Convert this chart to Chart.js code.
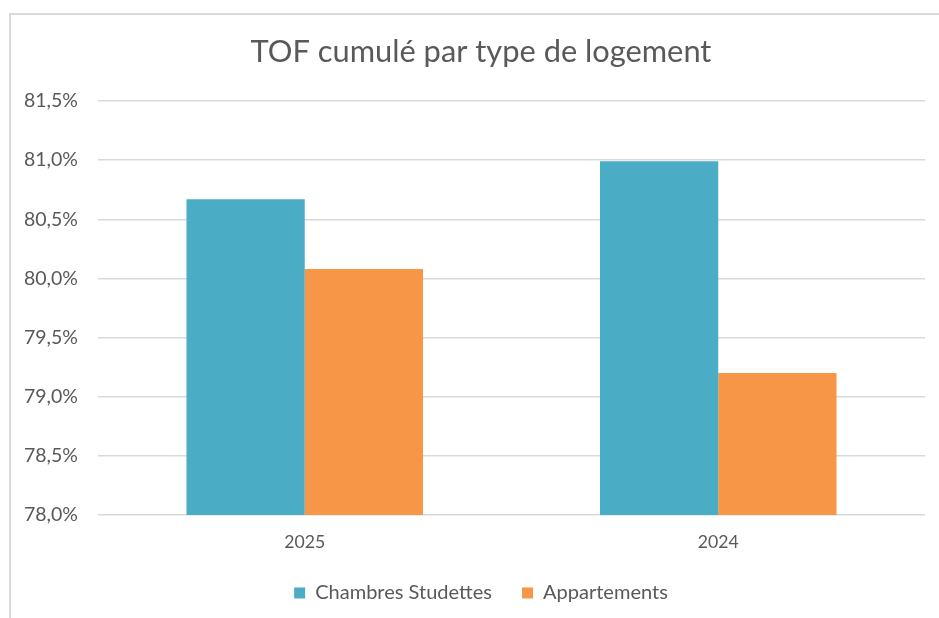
<!DOCTYPE html>
<html>
<head>
<meta charset="utf-8">
<script src="https://cdn.jsdelivr.net/npm/chart.js@4/dist/chart.umd.min.js"></script>
<style>
  html, body { margin: 0; padding: 0; background: #ffffff; overflow: hidden; }
  #frame { position: absolute; left: 9px; top: 13px; width: 2000px; height: 2000px;
           border-top: 2px solid #d9d9d9; border-left: 2px solid #d9d9d9; }
  #wrap { position: absolute; left: 0; top: 0; width: 939px; height: 618px; }
</style>
</head>
<body>
<div id="frame"></div>
<div id="wrap"><canvas id="c" width="939" height="618"></canvas></div>
<script>
// ---- data ----
const title = 'TOF cumulé par type de logement';
const categories = ['2025', '2024'];
const seriesNames = ['Chambres Studettes', 'Appartements'];
const chambresStudettes = [80.67, 80.99];
const appartements = [80.08, 79.20];
const yMin = 78.0, yMax = 81.5, yStep = 0.5;

// ---- styling ----
const FAMILY = 'Lato, "Open Sans", sans-serif';
const TEXT = '#595959';
function fitSize(text, target) {
  const ctx = document.createElement('canvas').getContext('2d');
  ctx.font = '100px ' + FAMILY;
  return 100 * target / ctx.measureText(text).width;
}
const titleSize = fitSize(title, 461);
const tickSize = fitSize('81,5%', 54);
const xSize = fitSize('2025', 41);
const legendSize = fitSize('Chambres Studettes', 177);
const titleLH = titleSize * 1.2;
const titleCenter = 52;
const areaTop = 101;
const areaLeft = 98;
const padLeft = 37;

new Chart(document.getElementById('c'), {
  type: 'bar',
  data: {
    labels: categories,
    datasets: [
      { label: seriesNames[0], data: chambresStudettes, backgroundColor: '#4BACC6', borderWidth: 0 },
      { label: seriesNames[1], data: appartements, backgroundColor: '#F79646', borderWidth: 0 }
    ]
  },
  options: {
    responsive: false,
    animation: false,
    layout: { padding: { left: padLeft, right: 14, top: 0, bottom: 5 } },
    datasets: { bar: { categoryPercentage: 0.572, barPercentage: 1.0 } },
    plugins: {
      title: {
        display: true, text: title, color: TEXT,
        font: { family: FAMILY, size: titleSize, weight: 'normal', lineHeight: 1.2 },
        padding: { top: titleCenter - titleLH / 2, bottom: areaTop - titleCenter - titleLH / 2 }
      },
      legend: {
        position: 'bottom',
        labels: {
          color: TEXT, boxWidth: 11, boxHeight: 11, padding: 30,
          font: { family: FAMILY, size: legendSize }
        }
      },
      tooltip: { enabled: false }
    },
    scales: {
      x: {
        grid: { display: false, drawTicks: false },
        border: { display: false },
        ticks: { color: TEXT, padding: 17, font: { family: FAMILY, size: xSize } },
        afterFit: (s) => { s.height = 38; }
      },
      y: {
        min: yMin, max: yMax,
        grid: { color: '#d9d9d9', lineWidth: 1.5, drawTicks: false },
        border: { display: false },
        ticks: {
          stepSize: yStep, color: TEXT,
          mirror: true, crossAlign: 'near', padding: -74,
          font: { family: FAMILY, size: tickSize },
          callback: (v) => v.toFixed(1).replace('.', ',') + '%'
        },
        afterFit: (s) => { s.width = areaLeft - padLeft; }
      }
    }
  }
});
</script>
</body>
</html>
